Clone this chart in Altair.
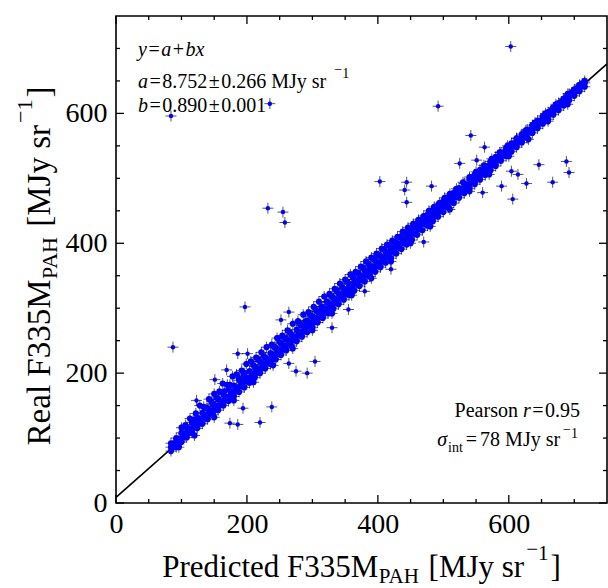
import altair as alt
import pandas as pd

# ---------------- data ----------------
band_x = [84, 92, 100, 108, 116, 124, 132, 140, 148, 156,
          164, 172, 180, 188, 196, 204, 212, 220, 228, 236,
          244, 252, 260, 268, 276, 284, 292, 300, 308, 316,
          324, 332, 340, 348, 356, 364, 372, 380, 388, 396,
          404, 412, 420, 428, 436, 444, 452, 460, 468, 476,
          484, 492, 500, 508, 516, 524, 532, 540, 548, 556,
          564, 572, 580, 588, 596, 604, 612, 620, 628, 636,
          644, 652, 660, 668, 676, 684, 692, 700, 708, 716]
band_mid = [86, 93, 100, 108, 115, 122, 130, 136, 143, 150,
            157, 164, 172, 179, 187, 193, 200, 207, 214, 222,
            229, 236, 243, 250, 257, 263, 271, 279, 286, 293,
            300, 307, 314, 321, 328, 337, 343, 350, 357, 364,
            371, 379, 386, 393, 400, 407, 414, 423, 430, 436,
            442, 449, 458, 463, 470, 477, 484, 491, 498, 506,
            512, 519, 526, 533, 540, 548, 555, 562, 569, 576,
            583, 590, 597, 604, 611, 618, 626, 633, 640, 647]
band_up = [92, 100, 108, 117, 124, 131, 139, 146, 152, 160,
           167, 175, 181, 189, 196, 203, 210, 218, 224, 231,
           239, 246, 253, 259, 267, 274, 281, 288, 295, 302,
           309, 316, 323, 330, 337, 344, 351, 358, 365, 373,
           380, 387, 394, 401, 408, 416, 423, 430, 437, 444,
           451, 458, 465, 471, 478, 485, 492, 499, 506, 513,
           519, 526, 533, 540, 547, 554, 561, 568, 575, 582,
           589, 596, 602, 609, 616, 623, 630, 637, 644, 650]
band_lo = [80, 86, 94, 101, 108, 115, 122, 129, 136, 143,
           150, 157, 164, 171, 178, 185, 193, 200, 207, 214,
           221, 228, 235, 242, 249, 256, 263, 270, 278, 285,
           292, 299, 306, 313, 320, 327, 334, 341, 349, 356,
           363, 370, 377, 384, 391, 398, 405, 413, 420, 427,
           434, 441, 448, 455, 462, 470, 477, 484, 491, 498,
           505, 512, 519, 527, 534, 541, 548, 555, 562, 570,
           577, 584, 591, 598, 605, 612, 620, 627, 634, 641]

band_x2 = [88, 96, 104, 112, 120, 128, 136, 144, 152, 160,
           168, 176, 184, 192, 200, 208, 216, 224, 232, 240,
           248, 256, 264, 272, 280, 288, 296, 304, 312, 320,
           328, 336, 344, 352, 360, 368, 376, 384, 392, 400,
           408, 416, 424, 432, 440, 448, 456, 464, 472, 480,
           488, 496, 504, 512, 520, 528, 536, 544, 552, 560,
           568, 576, 584, 592, 600, 608, 616, 624, 632, 640,
           648, 656, 664, 672, 680, 688, 696, 704, 712]
band_mid2 = [92, 99, 107, 113, 121, 128, 135, 142, 149, 156,
             163, 171, 177, 185, 192, 199, 206, 213, 220, 228,
             234, 242, 249, 256, 263, 270, 277, 284, 292, 298,
             306, 313, 320, 327, 334, 341, 348, 356, 362, 370,
             377, 384, 391, 398, 405, 412, 420, 427, 434, 441,
             448, 455, 462, 469, 476, 483, 490, 497, 505, 512,
             519, 526, 533, 540, 547, 554, 561, 568, 575, 582,
             589, 596, 604, 611, 618, 625, 632, 639, 646]
band_lo2 = [87, 94, 101, 108, 116, 122, 130, 137, 144, 151,
            158, 165, 173, 180, 187, 194, 201, 208, 215, 222,
            230, 237, 244, 251, 258, 265, 272, 279, 286, 294,
            301, 308, 315, 322, 329, 336, 343, 351, 358, 365,
            372, 379, 386, 393, 400, 408, 415, 422, 429, 436,
            443, 450, 457, 464, 472, 479, 486, 493, 500, 507,
            514, 521, 528, 536, 543, 550, 557, 564, 571, 578,
            585, 593, 600, 607, 614, 621, 628, 635, 642]

edge_up_x = [100, 106, 113, 122, 128, 134, 142, 150, 158, 163,
             170, 178, 184, 192, 199, 206, 214, 222, 230, 238,
             246, 254, 262, 270, 278, 286, 294, 302, 310, 318,
             326, 334, 342, 350, 358, 366, 374, 382, 390, 398,
             406, 414, 422, 430, 438, 446, 454, 462, 470, 478,
             486, 494, 502, 510, 520, 530, 540, 550, 562, 574,
             586, 598, 612, 626, 640, 656, 672, 690]
edge_up_y = [116, 120, 130, 138, 150, 148, 160, 168, 172, 184,
             182, 195, 198, 204, 214, 218, 224, 232, 240, 244,
             254, 258, 266, 276, 280, 290, 294, 302, 310, 318,
             322, 330, 338, 344, 352, 356, 364, 372, 378, 384,
             392, 398, 404, 410, 418, 424, 430, 436, 442, 450,
             456, 462, 470, 476, 484, 494, 502, 510, 520, 530,
             540, 550, 562, 574, 586, 600, 614, 630]

edge_up2_x = [118, 138, 146, 154, 166, 174, 188, 196, 210, 218,
              226, 242, 250, 258, 266, 282, 290, 298, 306, 314,
              322, 330, 338, 346, 354, 362, 370, 378, 386, 394,
              402, 410, 418, 426, 434, 442, 450, 458, 466, 474,
              482, 490, 498]
edge_up2_y = [128, 146, 156, 162, 172, 182, 192, 200, 212, 220,
              226, 240, 248, 254, 262, 274, 280, 288, 296, 302,
              310, 318, 326, 332, 340, 348, 354, 362, 368, 376,
              382, 390, 396, 402, 410, 416, 422, 430, 436, 442,
              450, 456, 462]

edge_lo_x = [96, 120, 150, 180, 210, 240, 270, 300, 330, 360, 390,
             420, 450, 480, 510, 540, 570, 600, 630, 660, 690]
edge_lo_y = [86, 104, 132, 158, 186, 212, 238, 266, 292, 320, 346,
             372, 400, 426, 452, 480, 506, 534, 560, 588, 614]

outlier_x = [84, 235, 492, 603, 542, 87, 197, 264, 252, 232,
             255, 258, 403, 441, 444, 444, 482, 525, 551, 563,
             646, 688, 692, 667, 606, 627, 614, 604, 589, 194,
             238, 220, 186, 174, 304, 292, 275, 264, 151, 123,
             186, 201, 169, 330, 355, 380, 420, 470, 560]
outlier_y = [596, 615, 611, 703, 566, 240, 302, 294, 282, 454,
             448, 432, 495, 482, 494, 463, 488, 523, 528, 548,
             521, 526, 509, 494, 468, 492, 506, 511, 488, 146,
             148, 124, 121, 123, 218, 200, 203, 215, 190, 158,
             230, 230, 205, 270, 298, 326, 360, 402, 478]

fit_a = 8.752
fit_b = 0.890
fit_x = [0, 750]

x_tick_labels = [0, 200, 400, 600]
y_tick_labels = [0, 200, 400, 600]
major_ticks = [0, 200, 400, 600]
minor_ticks = [50, 100, 150, 250, 300, 350, 450, 500, 550, 650, 700]

# ---------------- layout ----------------
W, H = 491, 487
SERIF = "Liberation Serif"
XT = 31
YT = 33
TSUB = 21
ANN = 20
ASUB = 14

REG = {' ': 250, '[': 333, ']': 333, '.': 250, '=': 564, '+': 564, '\u00b1': 549,
       '\u2212': 564, 'A': 722, 'H': 722, 'J': 389, 'M': 889, 'P': 556, 'F': 556,
       'R': 667, 'a': 444, 'c': 444, 'd': 500, 'e': 444, 'i': 278, 'l': 278,
       'n': 500, 'o': 500, 'r': 333, 's': 389, 't': 278, 'y': 500}
ITA = {'y': 444, 'a': 500, 'b': 500, 'x': 444, 'r': 389, '\u03c3': 520}


def tw(s, size, italic=False):
    table = ITA if italic else REG
    return sum(table.get(c, 500) for c in s) * size / 1000.0


def seg_layers(segs, x0, y0, align="left", angle=0):
    widths = [g + tw(t, sz, it) for (t, sz, dy, it, g) in segs]
    total = sum(widths)
    start = 0.0
    if align == "right":
        start = -total
    elif align == "center":
        start = -total / 2.0
    out = []
    cur = start
    for (t, sz, dy, it, g) in segs:
        cur += g
        out.append(
            alt.Chart(alt.Data(values=[{}])).mark_text(
                font=SERIF, fontSize=sz, fontStyle="italic" if it else "normal",
                align="left", baseline="alphabetic", dx=cur, dy=dy, angle=angle,
                color="black",
            ).encode(x=alt.value(x0), y=alt.value(y0), text=alt.value(t))
        )
        cur += tw(t, sz, it)
    return out


xscale = alt.Scale(domain=[0, 750], nice=False, zero=False)
yscale = alt.Scale(domain=[0, 750], nice=False, zero=False)
xaxis = alt.Axis(values=x_tick_labels, title=None, ticks=False, tickSize=0, domain=False,
                 grid=False, labelFont=SERIF, labelFontSize=28, labelColor="black",
                 labelPadding=7, labelFlush=False, labelOverlap=False)
yaxis = alt.Axis(values=y_tick_labels, title=None, ticks=False, tickSize=0, domain=False,
                 grid=False, labelFont=SERIF, labelFontSize=28, labelColor="black",
                 labelPadding=9, labelFlush=False, labelOverlap=False)

band_all_x = (band_x + band_x + band_x + band_x2 + band_x2 + edge_up_x + edge_up2_x
              + edge_lo_x)
band_all_y = (band_mid + band_up + band_lo + band_mid2 + band_lo2 + edge_up_y + edge_up2_y
              + edge_lo_y)
band_df = pd.DataFrame({"pred": band_all_x, "real": band_all_y})
out_df = pd.DataFrame({"pred": outlier_x, "real": outlier_y})
all_df = pd.concat([band_df, out_df], ignore_index=True)
line_df = pd.DataFrame({"pred": fit_x, "real": [fit_a + fit_b * v for v in fit_x]})

X = alt.X("pred:Q", scale=xscale, axis=xaxis)
Y = alt.Y("real:Q", scale=yscale, axis=yaxis)

fit_line = alt.Chart(line_df).mark_line(color="black", strokeWidth=1.6, clip=True).encode(x=X, y=Y)
crosses = alt.Chart(all_df).mark_point(
    shape="M-1,0H1M0,-1V1", size=121, filled=False, color="black",
    strokeWidth=1, opacity=0.65,
).encode(x=X, y=Y)
band_dots = alt.Chart(band_df).mark_point(
    shape="circle", size=38, filled=True, color="#0000ff", opacity=1, strokeWidth=0,
).encode(x=X, y=Y)
out_dots = alt.Chart(out_df).mark_point(
    shape="circle", size=20, filled=True, color="#0000ff", opacity=1, strokeWidth=0,
).encode(x=X, y=Y)

tick_layers = []
for vals, ln in ((major_ticks, 8), (minor_ticks, 4)):
    d = pd.DataFrame({"v": vals})
    tx = alt.X("v:Q", scale=xscale, axis=xaxis)
    ty = alt.Y("v:Q", scale=yscale, axis=yaxis)
    tick_layers.append(alt.Chart(d).mark_rule(color="black", strokeWidth=1.3).encode(
        x=tx, y=alt.value(H), y2=alt.value(H - ln)))
    tick_layers.append(alt.Chart(d).mark_rule(color="black", strokeWidth=1.3).encode(
        x=tx, y=alt.value(0), y2=alt.value(ln)))
    tick_layers.append(alt.Chart(d).mark_rule(color="black", strokeWidth=1.3).encode(
        y=ty, x=alt.value(0), x2=alt.value(ln)))
    tick_layers.append(alt.Chart(d).mark_rule(color="black", strokeWidth=1.3).encode(
        y=ty, x=alt.value(W), x2=alt.value(W - ln)))

texts = []
# x axis title
texts += seg_layers([
    ("Predicted F335M", XT, 0, False, 0),
    ("PAH", TSUB, 6, False, 0.5),
    ("[MJy sr", XT, 0, False, tw(" ", XT)),
    ("\u2212", TSUB, -21, False, 2),
    ("1", TSUB, -17, False, 0),
    ("]", XT, 0, False, 2),
], W / 2.0, 561, align="center")
# y axis title
texts += seg_layers([
    ("Real F335M", YT, 0, False, 0),
    ("PAH", TSUB + 1, 7, False, 0.5),
    ("[MJy sr", YT, 0, False, tw(" ", YT)),
    ("\u2212", TSUB + 1, -22, False, 2),
    ("1", TSUB + 1, -18, False, 0),
    ("]", YT, 0, False, 2),
], -66, 250, align="center", angle=270)
# top-left annotation
texts += seg_layers([
    ("y", ANN, 0, True, 0), ("=", ANN, 0, False, 1.5), ("a", ANN, 0, True, 1.5),
    ("+", ANN, 0, False, 1.5), ("bx", ANN, 0, True, 1.5),
], 22, 40)
texts += seg_layers([
    ("a", ANN, 0, True, 0), ("=", ANN, 0, False, 1.5), ("8.752", ANN, 0, False, 1.5),
    ("\u00b1", ANN, 0, False, 1.5), ("0.266", ANN, 0, False, 1.5),
    ("MJy sr", ANN, 0, False, tw(" ", ANN)),
    ("\u2212", ASUB, -14, False, 8), ("1", ASUB, -10, False, 0),
], 22, 72)
texts += seg_layers([
    ("b", ANN, 0, True, 0), ("=", ANN, 0, False, 1.5), ("0.890", ANN, 0, False, 1.5),
    ("\u00b1", ANN, 0, False, 1.5), ("0.001", ANN, 0, False, 1.5),
], 22, 96)
# bottom-right annotation
texts += seg_layers([
    ("Pearson", ANN, 0, False, 0), ("r", ANN, 0, True, tw(" ", ANN)),
    ("=", ANN, 0, False, 1.5), ("0.95", ANN, 0, False, 1.5),
], 464, 401, align="right")
texts += seg_layers([
    ("\u03c3", ANN, 0, True, 0), ("int", ASUB, 6, False, 0.5),
    ("=", ANN, 0, False, 3), ("78 MJy sr", ANN, 0, False, 3),
    ("\u2212", ASUB, -12, False, 3), ("1", ASUB, -8, False, 0),
], 462, 430, align="right")

chart = alt.layer(fit_line, crosses, band_dots, out_dots, *tick_layers, *texts).properties(
    width=W, height=H,
    padding={"left": 116, "top": 16, "right": 1, "bottom": 85},
    autosize=alt.AutoSizeParams(type="none"),
    background="white",
).configure_view(stroke="black", strokeWidth=1.6)

chart.save("out.html", embed_options={"renderer": "svg", "actions": False})
